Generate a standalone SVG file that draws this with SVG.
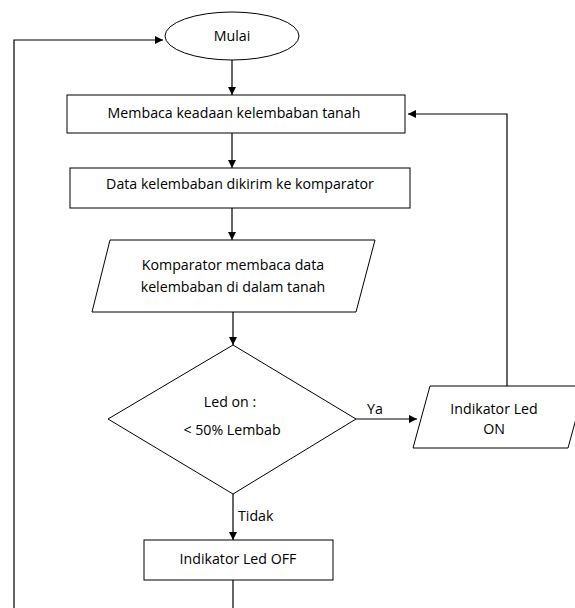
<svg xmlns="http://www.w3.org/2000/svg" width="575" height="608" viewBox="0 0 575 608">
<defs>
<marker id="ah" viewBox="0 0 10 10" refX="10" refY="5" markerWidth="8" markerHeight="8" markerUnits="userSpaceOnUse" orient="auto">
<path d="M0,0 L10,5 L0,10 z" fill="#000"/>
</marker>
<style>
.s{fill:#fff;stroke:#000;stroke-width:1}
.c{fill:none;stroke:#000;stroke-width:1.2}
.t{font-family:"Open Sans","Liberation Sans",sans-serif;font-size:14.2px;fill:#000;text-anchor:middle}
</style>
</defs>
<rect width="575" height="608" fill="#fff"/>
<g id="connectors">
<path class="c" d="M232,60 V95" marker-end="url(#ah)"/>
<path class="c" d="M232,133 V168" marker-end="url(#ah)"/>
<path class="c" d="M232,208 V240" marker-end="url(#ah)"/>
<path class="c" d="M233,312 V345" marker-end="url(#ah)"/>
<path class="c" d="M356,419 H417" marker-end="url(#ah)"/>
<path class="c" d="M507,386 V114 H408" marker-end="url(#ah)"/>
<path class="c" d="M233,494 V540" marker-end="url(#ah)"/>
<path class="c" d="M233,580 V608"/>
<path class="c" d="M14,608 V40 H163" marker-end="url(#ah)"/>
<text class="t" x="375" y="414">Ya</text>
<text class="t" x="238" y="521" style="text-anchor:start">Tidak</text>
</g>
<g id="mulai">
<ellipse class="s" cx="232" cy="36" rx="67" ry="24"/>
<text class="t" x="232" y="41">Mulai</text>
</g>
<g id="membaca">
<rect class="s" x="67" y="95" width="338" height="38"/>
<text class="t" x="234" y="118">Membaca keadaan kelembaban tanah</text>
</g>
<g id="data">
<rect class="s" x="70" y="168" width="340" height="40"/>
<text class="t" x="240" y="189">Data kelembaban dikirim ke komparator</text>
</g>
<g id="komparator">
<polygon class="s" points="110,240 375,240 356,312 92,312"/>
<text class="t" x="233" y="270">Komparator membaca data</text>
<text class="t" x="233" y="292">kelembaban di dalam tanah</text>
</g>
<g id="decision">
<polygon class="s" points="233,345 356,419 233,494 108,419"/>
<text class="t" x="230" y="407">Led on :</text>
<text class="t" x="232" y="435">&lt; 50% Lembab</text>
</g>
<g id="ledon">
<polygon class="s" points="430,386 585,386 568,448 413,448"/>
<text class="t" x="494" y="414">Indikator Led</text>
<text class="t" x="494" y="434">ON</text>
</g>
<g id="ledoff">
<rect class="s" x="144" y="540" width="189" height="40"/>
<text class="t" x="238" y="564">Indikator Led OFF</text>
</g>
</svg>
